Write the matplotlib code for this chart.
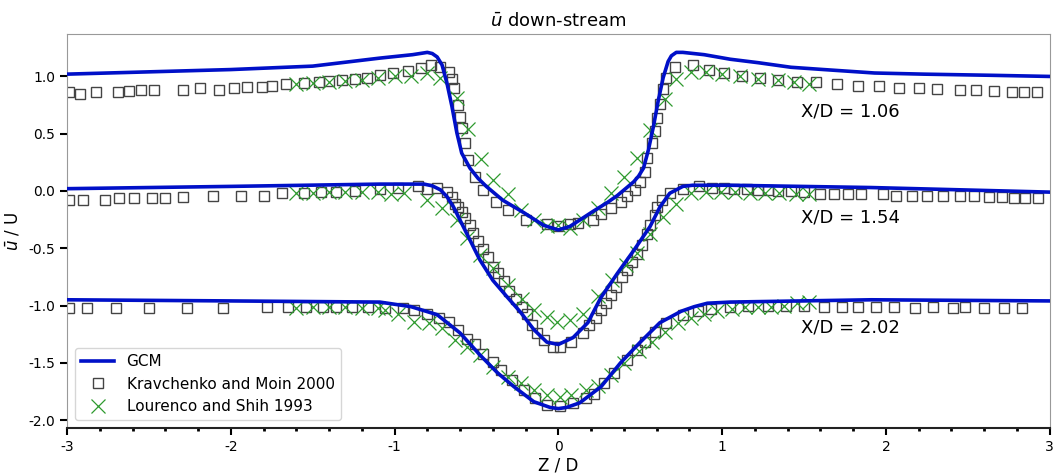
import matplotlib
matplotlib.use('Agg')
import matplotlib.pyplot as plt
from matplotlib.ticker import MultipleLocator

plt.rcParams['axes.unicode_minus'] = False

# station labels
stations = ['X/D = 1.06', 'X/D = 1.54', 'X/D = 2.02']
label_pos = [(1.48, 0.69), (1.48, -0.23), (1.48, -1.19)]

# GCM lines
gcm_z_106 = [-3.0, -2.5, -2.0, -1.5, -1.09, -0.89, -0.80, -0.77, -0.74, -0.71, -0.68, -0.65,
             -0.62, -0.59, -0.54, -0.49, -0.44, -0.34, -0.21, -0.09, 0.0, 0.07, 0.21, 0.30,
             0.36, 0.41, 0.46, 0.49, 0.52, 0.55, 0.58, 0.61, 0.64, 0.67, 0.69, 0.72, 0.76,
             0.89, 1.05, 1.22, 1.42, 1.62, 1.93, 2.23, 2.64, 3.0]
gcm_u_106 = [1.02, 1.04, 1.06, 1.09, 1.16, 1.19, 1.21, 1.20, 1.17, 1.10, 0.94, 0.74,
             0.51, 0.33, 0.20, 0.11, 0.04, -0.08, -0.19, -0.30, -0.34, -0.31, -0.18, -0.10,
             -0.04, 0.02, 0.08, 0.13, 0.20, 0.36, 0.56, 0.79, 0.99, 1.13, 1.18, 1.21, 1.21,
             1.19, 1.15, 1.12, 1.08, 1.06, 1.03, 1.02, 1.01, 1.00]

gcm_z_154 = [-3.0, -2.0, -1.09, -0.82, -0.77, -0.72, -0.68, -0.64, -0.56, -0.48, -0.40,
             -0.31, -0.23, -0.15, -0.07, 0.0, 0.09, 0.18, 0.26, 0.36, 0.46, 0.56, 0.62,
             0.68, 0.72, 0.76, 0.82, 0.89, 1.05, 1.91, 3.0]
gcm_u_154 = [0.02, 0.04, 0.06, 0.06, 0.045, 0.01, -0.05, -0.14, -0.37, -0.60, -0.78,
             -0.93, -1.06, -1.21, -1.32, -1.34, -1.28, -1.15, -0.93, -0.72, -0.52, -0.31,
             -0.14, -0.02, 0.01, 0.04, 0.05, 0.05, 0.05, 0.03, -0.01]

gcm_z_202 = [-3.0, -2.0, -1.09, -0.90, -0.74, -0.60, -0.48, -0.37, -0.27, -0.15, -0.05,
             0.0, 0.05, 0.13, 0.26, 0.38, 0.50, 0.62, 0.75, 0.83, 0.91, 1.05, 1.91, 3.0]
gcm_u_202 = [-0.95, -0.96, -0.97, -1.01, -1.08, -1.24, -1.43, -1.59, -1.71, -1.84, -1.89,
             -1.90, -1.89, -1.85, -1.71, -1.50, -1.32, -1.15, -1.05, -1.01, -0.98, -0.97,
             -0.95, -0.96]

# Kravchenko and Moin 2000
km_z_106 = [-2.99, -2.92, -2.82, -2.69, -2.62, -2.55, -2.47, -2.29, -2.19, -2.07, -1.98,
            -1.90, -1.81, -1.75, -1.66, -1.55, -1.46, -1.40, -1.32, -1.24, -1.17, -1.09,
            -1.01, -0.92, -0.84, -0.78, -0.72, -0.67, -0.65, -0.64, -0.61, -0.60, -0.59,
            -0.57, -0.55, -0.51, -0.46, -0.38, -0.31, -0.20, -0.07, 0.0, 0.07, 0.12, 0.21,
            0.26, 0.32, 0.38, 0.42, 0.47, 0.50, 0.53, 0.54, 0.57, 0.59, 0.60, 0.62, 0.64,
            0.66, 0.71, 0.82, 0.92, 1.01, 1.12, 1.23, 1.34, 1.46, 1.57, 1.70, 1.83, 1.96,
            2.08, 2.20, 2.31, 2.45, 2.55, 2.66, 2.77, 2.84, 2.92]
km_u_106 = [0.86, 0.85, 0.86, 0.86, 0.87, 0.88, 0.88, 0.88, 0.90, 0.88, 0.90,
            0.91, 0.91, 0.92, 0.93, 0.94, 0.95, 0.96, 0.97, 0.98, 0.99, 1.01,
            1.03, 1.05, 1.07, 1.10, 1.08, 1.04, 0.98, 0.90, 0.75, 0.65, 0.55,
            0.42, 0.27, 0.12, 0.01, -0.10, -0.17, -0.25, -0.29, -0.31, -0.29, -0.28, -0.25,
            -0.20, -0.15, -0.10, -0.04, 0.01, 0.08, 0.17, 0.29, 0.42, 0.52, 0.64, 0.76, 0.89,
            0.99, 1.08, 1.10, 1.06, 1.03, 1.00, 0.99, 0.97, 0.95, 0.95, 0.93, 0.92, 0.92,
            0.90, 0.90, 0.89, 0.88, 0.88, 0.87, 0.86, 0.86, 0.86]

km_z_154 = [-2.99, -2.90, -2.77, -2.68, -2.59, -2.48, -2.40, -2.29, -2.11, -1.94, -1.80,
            -1.69, -1.55, -1.45, -1.36, -1.24, -1.09, -0.98, -0.86, -0.80, -0.74, -0.68,
            -0.65, -0.63, -0.61, -0.59, -0.57, -0.54, -0.52, -0.49, -0.46, -0.43, -0.40,
            -0.37, -0.33, -0.30, -0.26, -0.22, -0.19, -0.16, -0.13, -0.09, -0.03, 0.01,
            0.08, 0.15, 0.19, 0.23, 0.26, 0.29, 0.32, 0.35, 0.39, 0.42, 0.45, 0.48, 0.51,
            0.54, 0.56, 0.59, 0.60, 0.63, 0.68, 0.76, 0.86, 0.94, 1.01, 1.07, 1.15, 1.22,
            1.28, 1.34, 1.42, 1.50, 1.60, 1.68, 1.77, 1.85, 1.98, 2.06, 2.16, 2.25, 2.35,
            2.45, 2.54, 2.63, 2.71, 2.78, 2.85, 2.93]
km_u_154 = [-0.08, -0.08, -0.08, -0.06, -0.06, -0.06, -0.06, -0.05, -0.04, -0.04, -0.04,
            -0.02, -0.02, -0.01, -0.01, 0.00, 0.02, 0.03, 0.04, 0.02, 0.03, -0.01,
            -0.05, -0.11, -0.14, -0.18, -0.24, -0.30, -0.37, -0.44, -0.51, -0.58, -0.66,
            -0.72, -0.79, -0.87, -0.94, -1.01, -1.07, -1.17, -1.24, -1.30, -1.36, -1.36,
            -1.32, -1.24, -1.17, -1.11, -1.04, -0.98, -0.91, -0.84, -0.75, -0.69, -0.62,
            -0.55, -0.47, -0.38, -0.30, -0.21, -0.14, -0.08, -0.02, 0.02, 0.04, 0.03, 0.03,
            0.02, 0.02, 0.01, 0.01, 0.00, 0.00, -0.01, -0.03, -0.03, -0.03, -0.03, -0.03,
            -0.04, -0.04, -0.04, -0.04, -0.04, -0.04, -0.05, -0.05, -0.06, -0.06, -0.06]

km_z_202 = [-2.99, -2.88, -2.70, -2.50, -2.27, -2.05, -1.78, -1.65, -1.54, -1.44, -1.36,
            -1.26, -1.16, -1.06, -0.95, -0.88, -0.80, -0.73, -0.67, -0.61, -0.56, -0.51,
            -0.46, -0.40, -0.35, -0.28, -0.21, -0.14, -0.07, 0.01, 0.09, 0.17, 0.22, 0.28,
            0.34, 0.42, 0.48, 0.53, 0.59, 0.66, 0.76, 0.85, 0.93, 1.05, 1.16, 1.28, 1.39,
            1.50, 1.62, 1.73, 1.83, 1.94, 2.05, 2.18, 2.29, 2.41, 2.48, 2.60, 2.72, 2.83]
km_u_202 = [-1.02, -1.02, -1.02, -1.02, -1.02, -1.02, -1.01, -1.01, -1.01, -1.01, -1.01,
            -1.01, -1.01, -1.02, -1.02, -1.04, -1.07, -1.11, -1.14, -1.21, -1.29, -1.34,
            -1.42, -1.49, -1.56, -1.65, -1.74, -1.81, -1.87, -1.88, -1.85, -1.81, -1.77, -1.68,
            -1.59, -1.48, -1.39, -1.32, -1.23, -1.15, -1.08, -1.05, -1.03, -1.01, -1.00,
            -1.00, -1.00, -1.00, -1.01, -1.01, -1.01, -1.01, -1.01, -1.02, -1.01, -1.02,
            -1.01, -1.02, -1.02, -1.02]

# Lourenco and Shih 1993
ls_z_106 = [-1.60, -1.50, -1.40, -1.30, -1.20, -1.10, -1.00, -0.90, -0.80, -0.72, -0.62,
            -0.55, -0.47, -0.40, -0.31, -0.23, -0.15, -0.07, 0.0, 0.07, 0.15, 0.24, 0.32,
            0.40, 0.48, 0.56, 0.65, 0.72, 0.81, 0.90, 1.00, 1.11, 1.22, 1.34, 1.44, 1.53]
ls_u_106 = [0.93, 0.94, 0.95, 0.96, 0.97, 0.99, 1.00, 1.00, 1.03, 0.99, 0.81,
            0.54, 0.28, 0.10, -0.03, -0.17, -0.25, -0.31, -0.30, -0.32, -0.25, -0.15, -0.02,
            0.12, 0.29, 0.53, 0.80, 0.98, 1.04, 1.04, 1.02, 1.00, 0.98, 0.97, 0.95, 0.93]

ls_z_154 = [-1.60, -1.50, -1.40, -1.30, -1.20, -1.10, -1.02, -0.94, -0.80, -0.71, -0.62,
            -0.56, -0.48, -0.40, -0.31, -0.22, -0.15, -0.07, -0.01, 0.07, 0.15, 0.24, 0.33,
            0.41, 0.48, 0.56, 0.64, 0.72, 0.81, 0.90, 0.99, 1.08, 1.17, 1.26, 1.35, 1.45, 1.53]
ls_u_154 = [-0.02, -0.02, -0.01, -0.01, -0.01, -0.01, -0.03, -0.02, -0.08, -0.15, -0.25,
            -0.41, -0.56, -0.67, -0.82, -0.94, -1.04, -1.10, -1.14, -1.13, -1.07, -0.92, -0.78,
            -0.65, -0.54, -0.38, -0.23, -0.11, -0.02, -0.01, -0.01, -0.01, -0.02, -0.02,
            -0.02, -0.03, -0.03]

ls_z_202 = [-1.60, -1.50, -1.40, -1.30, -1.20, -1.10, -1.06, -0.98, -0.88, -0.79, -0.71,
            -0.63, -0.56, -0.48, -0.40, -0.31, -0.23, -0.15, -0.07, 0.01, 0.08, 0.17, 0.24,
            0.32, 0.40, 0.49, 0.57, 0.65, 0.73, 0.81, 0.89, 0.97, 1.06, 1.14, 1.22, 1.30,
            1.38, 1.46, 1.53]
ls_u_202 = [-1.02, -1.01, -1.01, -1.01, -1.02, -1.02, -1.04, -1.07, -1.14, -1.15, -1.20,
            -1.30, -1.36, -1.43, -1.54, -1.62, -1.68, -1.74, -1.78, -1.80, -1.78, -1.74, -1.70,
            -1.61, -1.50, -1.40, -1.32, -1.23, -1.15, -1.11, -1.07, -1.05, -1.03, -1.01,
            -1.01, -1.01, -1.00, -0.98, -0.97]

gcm = [(gcm_z_106, gcm_u_106), (gcm_z_154, gcm_u_154), (gcm_z_202, gcm_u_202)]
km = [(km_z_106, km_u_106), (km_z_154, km_u_154), (km_z_202, km_u_202)]
ls = [(ls_z_106, ls_u_106), (ls_z_154, ls_u_154), (ls_z_202, ls_u_202)]

fig = plt.figure(figsize=(10.55, 4.73), dpi=100)
ax = fig.add_axes([0.0635, 0.095, 0.9315, 0.833])

for i in range(3):
    ax.plot(gcm[i][0], gcm[i][1], color='#0010c8', lw=2.6, zorder=3,
            solid_joinstyle='round', label='GCM' if i == 0 else None)
    ax.plot(km[i][0], km[i][1], ls='none', marker='s', ms=6.8, mfc='none',
            mec='#444444', mew=1.0, zorder=2,
            label='Kravchenko and Moin 2000' if i == 0 else None)
    ax.plot(ls[i][0], ls[i][1], ls='none', marker='x', ms=10, mec='#2e9a2e',
            mew=0.9, zorder=2,
            label='Lourenco and Shih 1993' if i == 0 else None)
    ax.text(label_pos[i][0], label_pos[i][1], stations[i], fontsize=13, va='center')

ax.set_xlim(-3, 3)
ax.set_ylim(-2.07, 1.37)
ax.xaxis.set_major_locator(MultipleLocator(1))
ax.xaxis.set_minor_locator(MultipleLocator(0.2))
ax.yaxis.set_major_locator(MultipleLocator(0.5))
ax.tick_params(axis='both', which='major', length=5, width=1.5, labelsize=10, direction='out')
ax.tick_params(axis='x', which='minor', length=2, width=2)

for s in ['left', 'top', 'right']:
    ax.spines[s].set_color('#999999')
ax.spines['bottom'].set_color('#222222')
ax.spines['bottom'].set_linewidth(1.5)

ax.set_title(r'$\bar{u}$ down-stream', fontsize=13)
ax.set_xlabel('Z / D', fontsize=12, labelpad=2)
ax.set_ylabel(r'$\bar{u}$ / U', fontsize=12)
ax.legend(loc='lower left', fontsize=11, handlelength=2.2)

fig.savefig('out.png', dpi=100)
